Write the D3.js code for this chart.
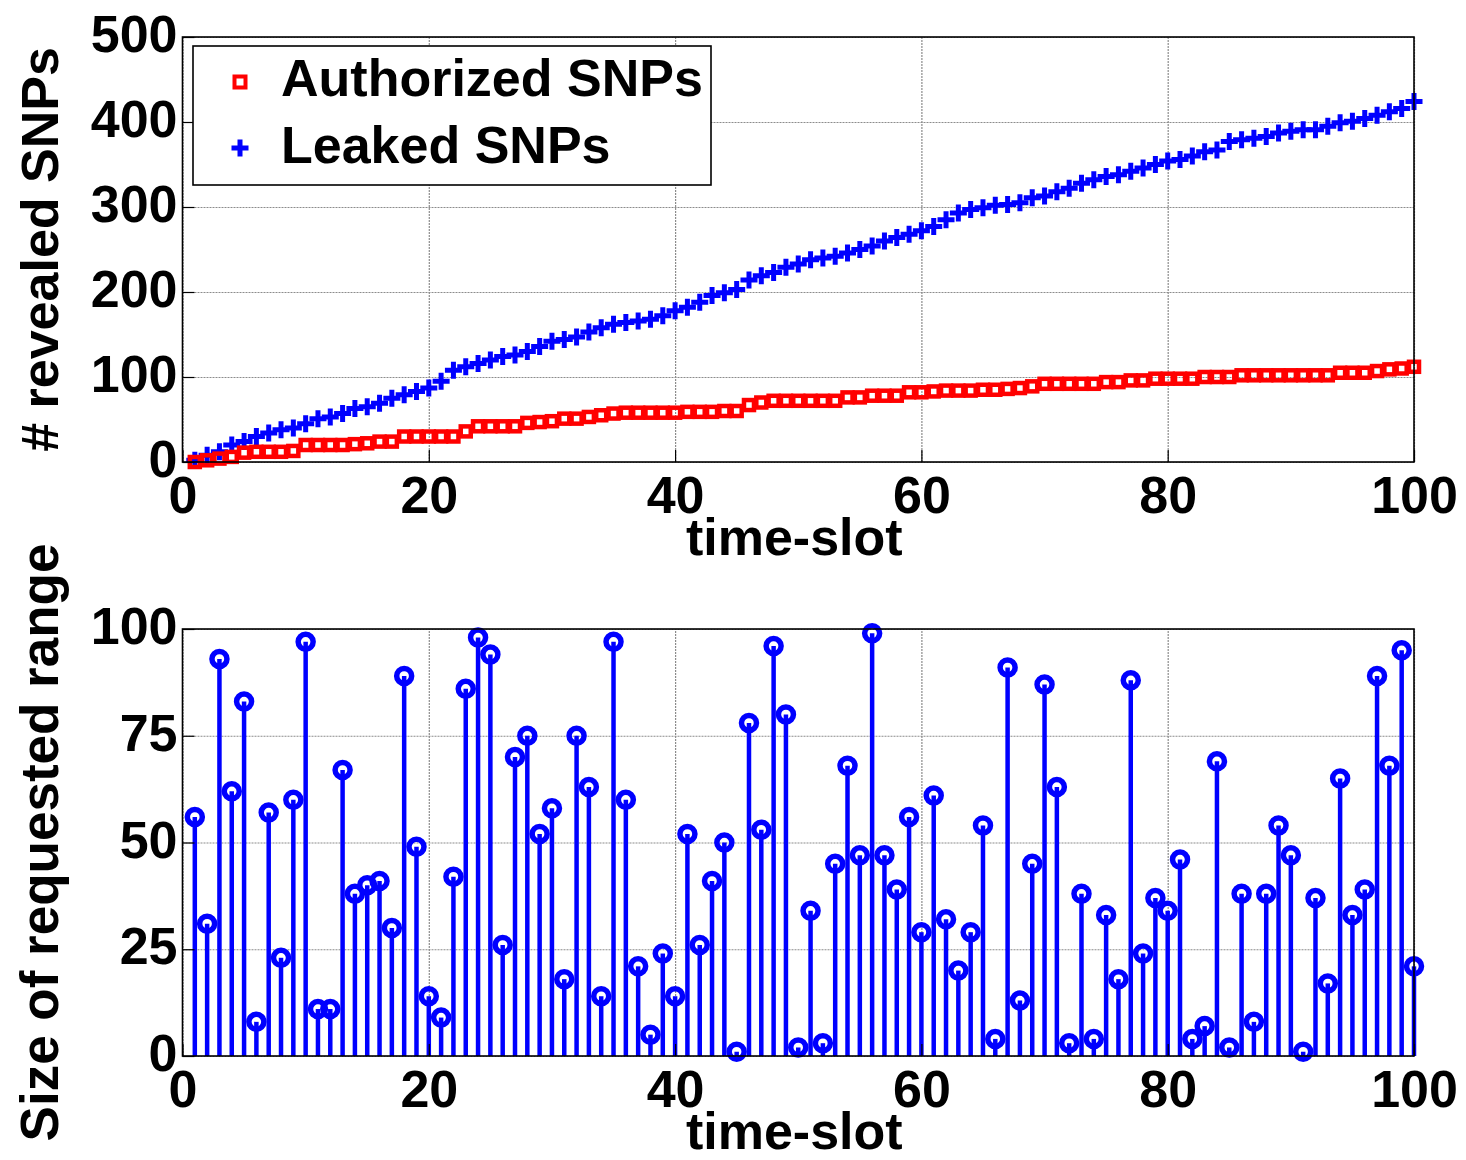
<!DOCTYPE html>
<html>
<head>
<meta charset="utf-8">
<script src="https://cdn.jsdelivr.net/npm/d3@7"></script>
<style>
  body { margin: 0; background: #fff; }
  text { font-family: "Liberation Sans", Arial, Helvetica, sans-serif; font-weight: bold; }
</style>
</head>
<body>
<div id="chart"></div>
<script>
// time-slots 1..100
const timeSlots = d3.range(1, 101);

// cumulative counts (top panel)
const authorizedSNPs = [
  0, 2, 4, 6, 11, 12, 12, 12, 13, 20,
  20, 20, 20, 21, 22, 24, 24, 30, 30, 30,
  30, 30, 36, 42, 42, 42, 42, 46, 47, 48,
  51, 51, 53, 55, 57, 58, 58, 58, 58, 58,
  59, 59, 59, 60, 60, 67, 70, 72, 72, 72,
  72, 72, 72, 76, 76, 78, 78, 78, 82, 82,
  83, 84, 84, 84, 85, 85, 86, 87, 89, 92,
  92, 92, 92, 92, 94, 94, 96, 96, 98, 98,
  98, 98, 100, 100, 100, 102, 102, 102, 102, 102,
  102, 102, 102, 105, 105, 105, 107, 109, 110, 112
];
const leakedSNPs = [
  2, 8, 12, 20, 24, 30, 34, 38, 40, 45,
  51, 53, 57, 63, 65, 69, 75, 79, 83, 87,
  95, 108, 112, 116, 120, 124, 126, 130, 136, 142,
  144, 147, 153, 158, 162, 164, 166, 168, 172, 178,
  182, 188, 196, 199, 203, 214, 219, 223, 229, 233,
  238, 240, 242, 246, 250, 254, 260, 264, 268, 272,
  277, 285, 293, 297, 299, 302, 303, 305, 311, 313,
  318, 322, 328, 332, 336, 338, 342, 346, 350, 354,
  356, 360, 365, 367, 377, 379, 381, 383, 387, 389,
  391, 391, 395, 399, 401, 404, 408, 412, 416, 424
];

// size of requested range (bottom panel)
const rangeSize = [
  56, 31, 93, 62, 83, 8, 57, 23, 60, 97,
  11, 11, 67, 38, 40, 41, 30, 89, 49, 14,
  9, 42, 86, 98, 94, 26, 70, 75, 52, 58,
  18, 75, 63, 14, 97, 60, 21, 5, 24, 14,
  52, 26, 41, 50, 1, 78, 53, 96, 80, 2,
  34, 3, 45, 68, 47, 99, 47, 39, 56, 29,
  61, 32, 20, 29, 54, 4, 91, 13, 45, 87,
  63, 3, 38, 4, 33, 18, 88, 24, 37, 34,
  46, 4, 7, 69, 2, 38, 8, 38, 54, 47,
  1, 37, 17, 65, 33, 39, 89, 68, 95, 21
];

const xTicks = [0, 20, 40, 60, 80, 100];
const topYTicks = [0, 100, 200, 300, 400, 500];
const bottomYTicks = [0, 25, 50, 75, 100];
const seriesNames = ["Authorized SNPs", "Leaked SNPs"];

const W = 1466, H = 1160;
const left = 182.5, right = 1414;
const fontSize = 52;

const svg = d3.select("#chart")
  .append("svg")
  .attr("width", W)
  .attr("height", H);

const x = d3.scaleLinear().domain([0, 100]).range([left, right]);
const yTop = d3.scaleLinear().domain([0, 500]).range([462, 37]);
const yBot = d3.scaleLinear().domain([0, 100]).range([1056, 629]);

// dotted grid for one panel
function drawGrid(y, yTicks) {
  const y0 = y.range()[0], y1 = y.range()[1];
  const g = svg.append("g");

  g.append("g")
    .attr("transform", `translate(0,${y0})`)
    .call(d3.axisBottom(x).tickValues(xTicks).tickSize(-(y0 - y1)).tickFormat(""))
    .call(a => a.select(".domain").remove())
    .selectAll("line")
    .attr("stroke", "#8c8c8c")
    .attr("stroke-width", 1.2)
    .attr("stroke-dasharray", "2,1");

  g.append("g")
    .attr("transform", `translate(${left},0)`)
    .call(d3.axisLeft(y).tickValues(yTicks).tickSize(-(right - left)).tickFormat(""))
    .call(a => a.select(".domain").remove())
    .selectAll("line")
    .attr("stroke", "#8c8c8c")
    .attr("stroke-width", 1.2)
    .attr("stroke-dasharray", "2,1");

  return g;
}

// ticks, labels, box, xlabel
function drawAxes(y, yTicks) {
  const y0 = y.range()[0], y1 = y.range()[1];

  const xa = svg.append("g")
    .attr("transform", `translate(0,${y0})`)
    .call(d3.axisBottom(x).tickValues(xTicks).tickSizeInner(-12).tickSizeOuter(0).tickPadding(14));
  const ya = svg.append("g")
    .attr("transform", `translate(${left},0)`)
    .call(d3.axisLeft(y).tickValues(yTicks).tickSizeInner(-12).tickSizeOuter(0).tickPadding(5));

  [xa, ya].forEach(a => {
    a.select(".domain").remove();
    a.selectAll("line").attr("stroke", "#000").attr("stroke-width", 1.2);
    a.selectAll("text")
      .attr("fill", "#000")
      .style("font-size", fontSize + "px")
      .style("font-family", "'Liberation Sans', Arial, Helvetica, sans-serif")
      .style("font-weight", "bold");
  });
  ya.selectAll("text").attr("dy", "0.28em");

  // box
  svg.append("rect")
    .attr("x", left)
    .attr("y", y1)
    .attr("width", right - left)
    .attr("height", y0 - y1)
    .attr("fill", "none")
    .attr("stroke", "#000")
    .attr("stroke-width", 1.6);

  svg.append("text")
    .attr("x", (left + right) / 2 - 4)
    .attr("y", y0 + 93)
    .attr("text-anchor", "middle")
    .style("font-size", fontSize + "px")
    .text("time-slot");
}

// ---- top panel ----
drawGrid(yTop, topYTicks);

const plusPath = "M-8.5,0H8.5M0,-8.5V8.5";

svg.append("g")
  .selectAll("path")
  .data(timeSlots)
  .enter()
  .append("path")
  .attr("transform", (d, i) => `translate(${x(d)},${yTop(leakedSNPs[i])})`)
  .attr("d", plusPath)
  .attr("stroke", "#0000ff")
  .attr("stroke-width", 5)
  .attr("fill", "none");

svg.append("g")
  .selectAll("rect")
  .data(timeSlots)
  .enter()
  .append("rect")
  .attr("x", d => x(d) - 5)
  .attr("y", (d, i) => yTop(authorizedSNPs[i]) - 5)
  .attr("width", 10)
  .attr("height", 10)
  .attr("fill", "none")
  .attr("stroke", "#ff0000")
  .attr("stroke-width", 4.5);

drawAxes(yTop, topYTicks);

svg.append("text")
  .attr("transform", `translate(58,${(yTop(0) + yTop(500)) / 2}) rotate(-90)`)
  .attr("text-anchor", "middle")
  .style("font-size", fontSize + "px")
  .text("# revealed SNPs");

// legend
const legend = svg.append("g");
legend.append("rect")
  .attr("x", 193)
  .attr("y", 46)
  .attr("width", 518)
  .attr("height", 139)
  .attr("fill", "#fff")
  .attr("stroke", "#000")
  .attr("stroke-width", 1.6);

legend.append("rect")
  .attr("x", 240 - 5.5)
  .attr("y", 82 - 5.5)
  .attr("width", 11)
  .attr("height", 11)
  .attr("fill", "none")
  .attr("stroke", "#ff0000")
  .attr("stroke-width", 4);

legend.append("path")
  .attr("transform", "translate(240,148)")
  .attr("d", plusPath)
  .attr("stroke", "#0000ff")
  .attr("stroke-width", 5);

legend.append("text")
  .attr("x", 281)
  .attr("y", 96)
  .style("font-size", fontSize + "px")
  .text(seriesNames[0]);

legend.append("text")
  .attr("x", 281)
  .attr("y", 163)
  .style("font-size", fontSize + "px")
  .text(seriesNames[1]);

// ---- bottom panel ----
drawGrid(yBot, bottomYTicks);

svg.append("g")
  .selectAll("line")
  .data(timeSlots)
  .enter()
  .append("line")
  .attr("x1", d => x(d))
  .attr("x2", d => x(d))
  .attr("y1", yBot(0))
  .attr("y2", (d, i) => yBot(rangeSize[i]))
  .attr("stroke", "#0000ff")
  .attr("stroke-width", 4.5);

svg.append("g")
  .selectAll("circle")
  .data(timeSlots)
  .enter()
  .append("circle")
  .attr("cx", d => x(d))
  .attr("cy", (d, i) => yBot(rangeSize[i]))
  .attr("r", 7.5)
  .attr("fill", "none")
  .attr("stroke", "#0000ff")
  .attr("stroke-width", 5.5);

drawAxes(yBot, bottomYTicks);

svg.append("text")
  .attr("transform", `translate(58,${(yBot(0) + yBot(100)) / 2}) rotate(-90)`)
  .attr("text-anchor", "middle")
  .style("font-size", "53px")
  .text("Size of requested range");
</script>
</body>
</html>
